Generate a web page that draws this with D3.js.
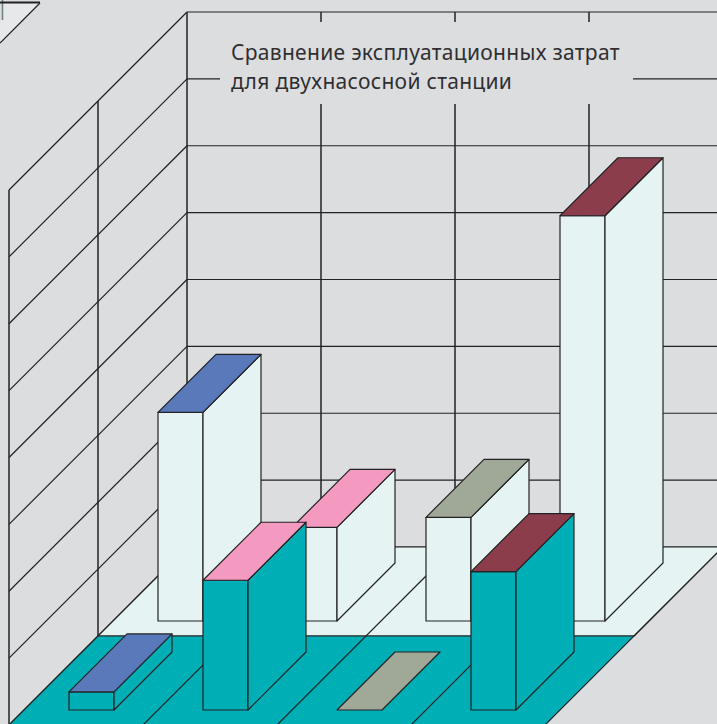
<!DOCTYPE html>
<html>
<head>
<meta charset="utf-8">
<script src="https://cdn.jsdelivr.net/npm/d3@7"></script>
<style>
  html, body { margin: 0; padding: 0; background: #dcdddf; }
  svg { display: block; }
</style>
</head>
<body>
<svg id="chart" width="717" height="724"></svg>
<script>
// values, one gridline = 1 unit
const categories = ['A', 'B', 'C', 'D'];
const backValues = [3.12, 1.40, 1.55, 6.06];
const frontValues = [0.27, 1.94, 0, 2.07];
const topColors = ['#5a79bb', '#f49ac1', '#a0a998', '#8b3d4c'];
const gridTicks = [0, 1, 2, 3, 4, 5, 6, 7, 8];
const titleLines = ['Сравнение эксплуатационных затрат', 'для двухнасосной станции'];

const ink = '#222224';
const wallColor = '#dcdddf';
const tealColor = '#00afb5';
const paleColor = '#e5f3f3';

const svg = d3.select('#chart');

// front left corner of the floor is at (9, 725), depth goes up and to the right
const x = d3.scaleBand().domain(categories).range([9, 545]);
const depth = d3.scaleBand().domain(['front', 'back']).range([0, 178]);
const y = d3.scaleLinear().domain([0, 8]).range([0, 535]);

// position on the floor (px along x, px of depth) and height as a value
const pt = (px, d, v = 0) => [px + d, 725 - d - y(v)];
const poly = (g, pts, fill, w = 1.2) => g.append('polygon')
    .attr('points', pts.map(p => p.join(',')).join(' '))
    .attr('fill', fill)
    .attr('stroke', w ? ink : 'none')
    .attr('stroke-width', w)
    .attr('stroke-linejoin', 'round');
const line = (g, a, b, w = 1.2) => g.append('line')
    .attr('x1', a[0]).attr('y1', a[1])
    .attr('x2', b[0]).attr('y2', b[1])
    .attr('stroke', ink)
    .attr('stroke-width', w);

const left = x.range()[0];
const right = x.range()[1];
const deep = depth.range()[1];
const mid = depth('back');

// scrap of a frame in the top left corner of the page
const scrap = svg.append('g');
scrap.append('path').attr('d', 'M2.5,0V3H40L0,43V20H2.5Z').attr('fill', '#e6e8ea');
scrap.append('path').attr('d', 'M2.5,0V20').attr('stroke', '#6f7f80').attr('stroke-width', 1.5);
scrap.append('path').attr('d', 'M0,2.5H40').attr('stroke', ink).attr('stroke-width', 2);
scrap.append('path').attr('d', 'M40,3L0,43').attr('stroke', ink).attr('stroke-width', 1.2);

// walls
const walls = svg.append('g');
gridTicks.forEach(t => {
    line(walls, pt(left, deep, t), pt(right + deep, deep, t));
    line(walls, pt(left, 0, t), pt(left, deep, t));
});
[...categories.map(c => x(c)), right].forEach(px => {
    line(walls, pt(px, deep, 0), pt(px, deep, 8), 1.5);
});
line(walls, pt(left, 0, 0), pt(left, 0, 8), 1.5);
line(walls, pt(left, mid, 0), pt(left, mid, 8), 1.5);

// floor, pale half at the back and teal half at the front
const floor = svg.append('g');
poly(floor, [pt(left, mid), pt(left, deep), pt(right, deep), pt(right, mid)], paleColor);
poly(floor, [pt(left, 0), pt(left, mid), pt(right, mid), pt(right, 0)], tealColor, 0);
line(floor, pt(left, mid), pt(right, mid), 1);
line(floor, pt(left, 0), pt(left, mid));
line(floor, pt(right, 0), pt(right, deep));
categories.slice(1).forEach(c => line(floor, pt(x(c), 0), pt(x(c), deep)));

// title box hides the grid behind it
svg.append('rect')
    .attr('x', 220).attr('y', 22)
    .attr('width', 413).attr('height', 82)
    .attr('fill', wallColor);
svg.append('g').selectAll('text')
    .data(titleLines)
    .enter().append('text')
    .attr('x', 231)
    .attr('y', (d, i) => 60 + i * 29)
    .attr('font-family', '"Noto Sans", sans-serif')
    .attr('font-size', 21)
    .attr('letter-spacing', 0.3)
    .attr('fill', '#2f2f31')
    .text(d => d);

// one bar: front face, side face, top
const barInset = 45;
const barWidth = 45;
const barStart = 15;
const barDepth = 58;

const drawBars = (values, name, face) => {
    const g = svg.append('g');
    categories.forEach((c, i) => {
        const v = values[i];
        const x0 = x(c) + barInset;
        const x1 = x0 + barWidth;
        const d0 = depth(name) + barStart;
        const d1 = d0 + barDepth;
        if (v > 0) {
            poly(g, [pt(x0, d0), pt(x1, d0), pt(x1, d0, v), pt(x0, d0, v)], face);
            poly(g, [pt(x1, d0), pt(x1, d1), pt(x1, d1, v), pt(x1, d0, v)], face);
        }
        poly(g, [pt(x0, d0, v), pt(x1, d0, v), pt(x1, d1, v), pt(x0, d1, v)], topColors[i]);
    });
};

drawBars(backValues, 'back', paleColor);
drawBars(frontValues, 'front', tealColor);
</script>
</body>
</html>
